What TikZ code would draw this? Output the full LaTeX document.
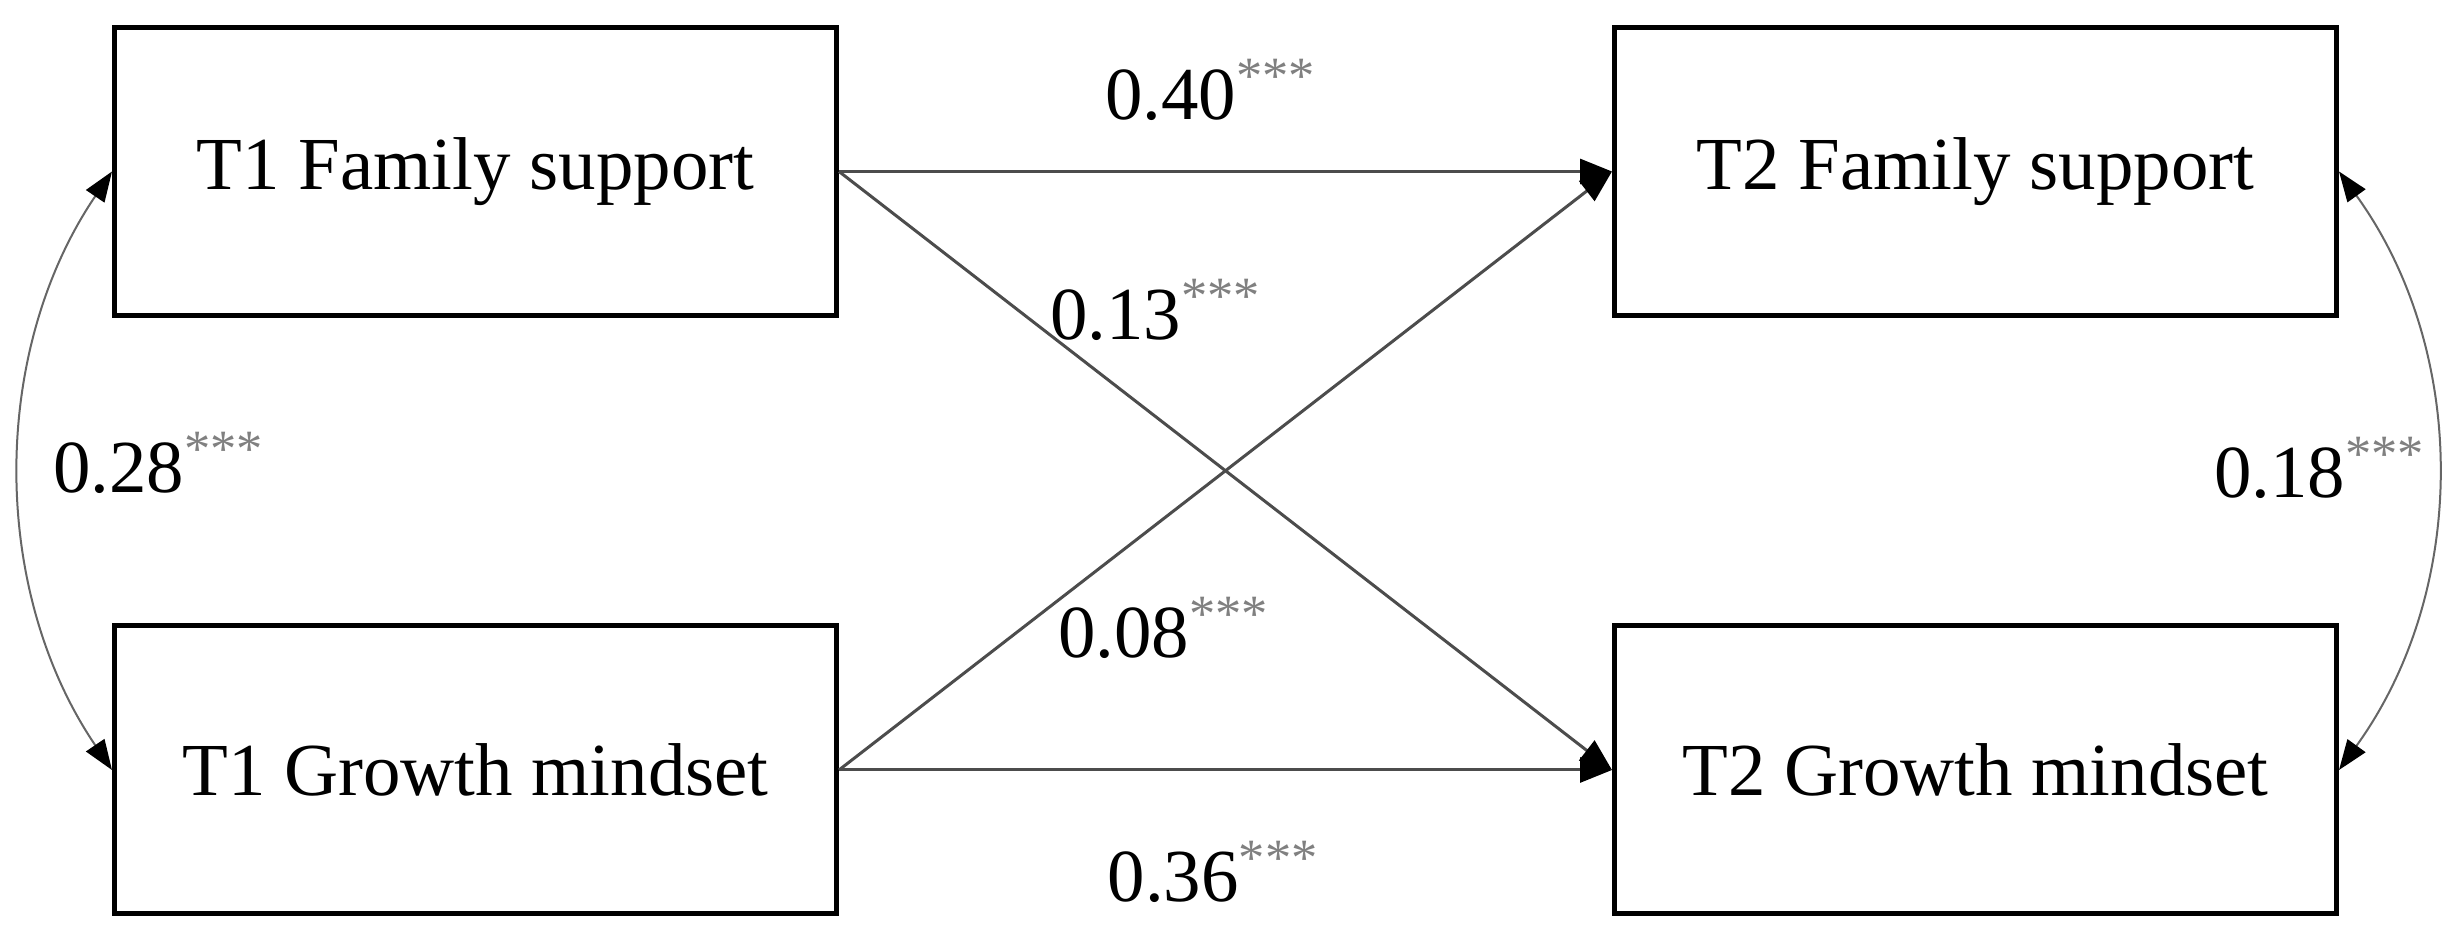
\documentclass[tikz,border=0pt]{standalone}
\usepackage{fontspec}
\setmainfont{Liberation Serif}
\usetikzlibrary{arrows.meta}
\newcommand{\stars}{{\color{gray}\textsuperscript{***}}}

\begin{document}
\begin{tikzpicture}[
  var/.style={draw, line width=0.05cm, minimum width=7.22cm, minimum height=2.88cm, inner sep=0pt, font=\fontsize{21.3}{25}\selectfont},
  coef/.style={anchor=base, inner sep=0pt, font=\fontsize{21.3}{25}\selectfont},
  reg/.style={draw=black!70, line width=0.03cm, -{Triangle[length=0.32cm, width=0.25cm, color=black]}},
  cov/.style={draw=black!60, line width=0.02cm, {Triangle[length=0.3cm, width=0.22cm, color=black]}-{Triangle[length=0.3cm, width=0.22cm, color=black]}}]
\useasboundingbox (0,0) rectangle (24.61,9.41);
\node[var] (fs1) at (4.755,7.695) {T1 Family support};
\node[var] (gm1) at (4.755,1.71) {T1 Growth mindset};
\node[var] (fs2) at (19.755,7.695) {T2 Family support};
\node[var] (gm2) at (19.755,1.71) {T2 Growth mindset};
% stability and cross-lagged paths
\draw[reg] (fs1.east) -- (fs2.west);
\draw[reg] (fs1.east) -- (gm2.west);
\draw[reg] (gm1.east) -- (fs2.west);
\draw[reg] (gm1.east) -- (gm2.west);
% correlations
\draw[cov] (fs1.west) .. controls +(-1.22,-1.8) and +(-1.22,1.8) .. (gm1.west);
\draw[cov] (fs2.east) .. controls +(1.3,-1.8) and +(1.3,1.8) .. (gm2.east);
\node[coef] (b40) at (12.11,8.21) {0.40\stars};
\node[coef] (b13) at (11.56,6.01) {0.13\stars};
\node[coef] (b08) at (11.64,2.83) {0.08\stars};
\node[coef] (b36) at (12.135,0.39) {0.36\stars};
\node[coef] (r28) at (1.59,4.48) {0.28\stars};
\node[coef] (r18) at (23.2,4.43) {0.18\stars};
\end{tikzpicture}
\end{document}
